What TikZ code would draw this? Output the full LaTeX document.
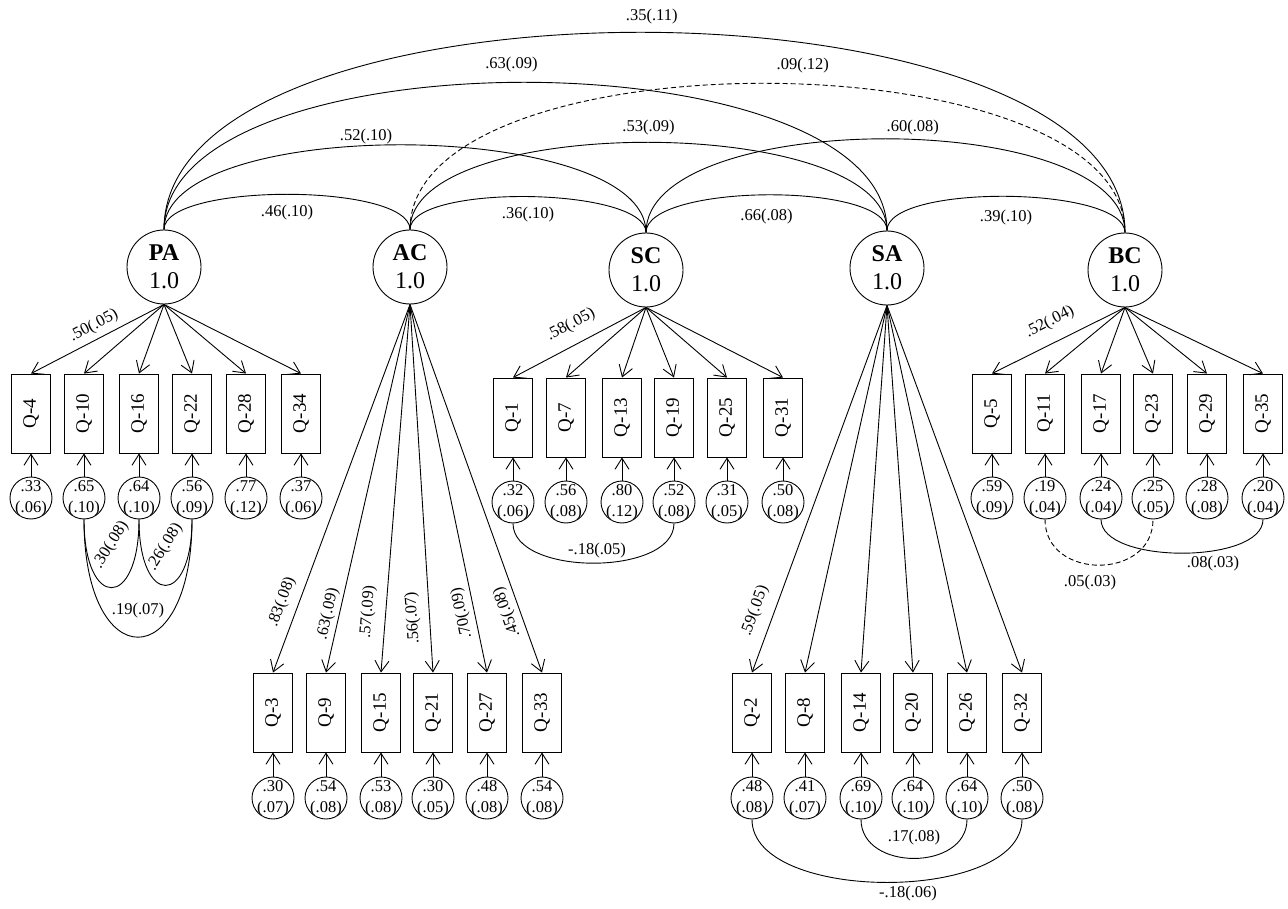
\documentclass[tikz,border=0pt]{standalone}
\usepackage{fontspec}
\setmainfont{Liberation Serif}
\usetikzlibrary{calc,arrows.meta}

\begin{document}
\begin{tikzpicture}[x=1pt, y=-1pt,
  latent/.style={draw, circle, minimum size=74pt, inner sep=0pt, align=center,
    font=\fontsize{24}{28}\selectfont, line width=0.9pt},
  obs/.style={draw, rectangle, minimum width=39pt, minimum height=79pt, inner sep=0pt,
    font=\fontsize{19}{22}\selectfont, line width=0.9pt},
  err/.style={draw, circle, minimum size=42pt, inner sep=0pt, line width=0.9pt},
  errtxt/.style={inner sep=0pt, align=center, font=\fontsize{16.5}{21}\selectfont},
  load/.style={-{Straight Barb[length=11pt,width=14pt]}, line width=0.9pt},
  cov/.style={line width=0.9pt},
  dcov/.style={line width=0.9pt, dash pattern=on 5pt off 3pt},
  lab/.style={inner sep=0pt, font=\fontsize{16.5}{20}\selectfont},
]
\fill[white] (0,0) rectangle (1288,909);
\useasboundingbox (0,0) rectangle (1288,909);

% latent factors
\node[latent] (PA) at (164,267) {\textbf{PA}\\1.0};
\node[latent] (AC) at (410,267) {\textbf{AC}\\1.0};
\node[latent] (SC) at (646,270) {\textbf{SC}\\1.0};
\node[latent] (SA) at (887,268) {\textbf{SA}\\1.0};
\node[latent] (BC) at (1125,270) {\textbf{BC}\\1.0};

% factor correlations
\draw[cov] (PA.north) .. controls ($(PA.north)+(0,-47)$) and ($(AC.north)+(0,-47)$) .. (AC.north)
  node[lab, pos=.5, yshift=-18pt] (cPAAC) {.46(.10)};
\draw[cov] (AC.north) .. controls ($(AC.north)+(0,-46)$) and ($(SC.north)+(0,-46)$) .. (SC.north)
  node[lab, pos=.5, yshift=-18pt] (cACSC) {.36(.10)};
\draw[cov] (SC.north) .. controls ($(SC.north)+(0,-49)$) and ($(SA.north)+(0,-49)$) .. (SA.north)
  node[lab, pos=.5, yshift=-22pt] (cSCSA) {.66(.08)};
\draw[cov] (SA.north) .. controls ($(SA.north)+(0,-47)$) and ($(BC.north)+(0,-47)$) .. (BC.north)
  node[lab, pos=.5, yshift=-21pt] (cSABC) {.39(.10)};
\draw[cov] (PA.north) .. controls ($(PA.north)+(0,-115)$) and ($(SC.north)+(0,-115)$) .. (SC.north)
  node[lab, pos=.446, yshift=9pt] (cPASC) {.52(.10)};
\draw[cov] (AC.north) .. controls ($(AC.north)+(0,-117)$) and ($(SA.north)+(0,-117)$) .. (SA.north)
  node[lab, pos=.5, yshift=15pt] (cACSA) {.53(.09)};
\draw[cov] (SC.north) .. controls ($(SC.north)+(0,-125)$) and ($(BC.north)+(0,-125)$) .. (BC.north)
  node[lab, pos=.538, yshift=12pt] (cSCBC) {.60(.08)};
\draw[cov] (PA.north) .. controls ($(PA.north)+(0,-197)$) and ($(SA.north)+(0,-197)$) .. (SA.north)
  node[lab, pos=.487, yshift=18pt] (cPASA) {.63(.09)};
\draw[dcov] (AC.north) .. controls ($(AC.north)+(0,-197)$) and ($(BC.north)+(0,-197)$) .. (BC.north)
  node[lab, pos=.533, yshift=19pt] (cACBC) {.09(.12)};
\draw[cov] (PA.north) .. controls ($(PA.north)+(0,-265)$) and ($(BC.north)+(0,-265)$) .. (BC.north)
  node[lab, pos=.505, yshift=16pt] (cPABC) {.35(.11)};

% PA indicators
\foreach \n/\x/\v/\s in {4/31/.33/.06, 10/84/.65/.10, 16/139/.64/.10,
                         22/192/.56/.09, 28/246/.77/.12, 34/301/.37/.06}{
  \node[obs] (q\n) at (\x,413.5) {\rotatebox{90}{Q-\n}};
  \node[err] (e\n) at (\x,498) {};
  \node[errtxt] (t\n) at (e\n.center) {\v\\(\s)};
  \draw[load] (e\n.north) -- (q\n.south);
  \draw[load] (PA.south) -- (q\n.north);
}
% AC indicators
\foreach \n/\x/\v/\s in {3/273/.30/.07, 9/326/.54/.08, 15/381/.53/.08,
                         21/433/.30/.05, 27/487/.48/.08, 33/542/.54/.08}{
  \node[obs] (q\n) at (\x,712.5) {\rotatebox{90}{Q-\n}};
  \node[err] (e\n) at (\x,798) {};
  \node[errtxt] (t\n) at (e\n.center) {\v\\(\s)};
  \draw[load] (e\n.north) -- (q\n.south);
  \draw[load] (AC.south) -- (q\n.north);
}
% SC indicators
\foreach \n/\x/\v/\s in {1/513/.32/.06, 7/566/.56/.08, 13/622/.80/.12,
                         19/674/.52/.08, 25/727/.31/.05, 31/783/.50/.08}{
  \node[obs] (q\n) at (\x,417.5) {\rotatebox{90}{Q-\n}};
  \node[err] (e\n) at (\x,502) {};
  \node[errtxt] (t\n) at (e\n.center) {\v\\(\s)};
  \draw[load] (e\n.north) -- (q\n.south);
  \draw[load] (SC.south) -- (q\n.north);
}
% SA indicators
\foreach \n/\x/\v/\s in {2/752/.48/.08, 8/805/.41/.07, 14/861/.69/.10,
                         20/913/.64/.10, 26/967/.64/.10, 32/1022/.50/.08}{
  \node[obs] (q\n) at (\x,712.5) {\rotatebox{90}{Q-\n}};
  \node[err] (e\n) at (\x,798) {};
  \node[errtxt] (t\n) at (e\n.center) {\v\\(\s)};
  \draw[load] (e\n.north) -- (q\n.south);
  \draw[load] (SA.south) -- (q\n.north);
}
% BC indicators
\foreach \n/\x/\v/\s in {5/992/.59/.09, 11/1045/.19/.04, 17/1101/.24/.04,
                         23/1153/.25/.05, 29/1207/.28/.08, 35/1263/.20/.04}{
  \node[obs] (q\n) at (\x,413.5) {\rotatebox{90}{Q-\n}};
  \node[err] (e\n) at (\x,498) {};
  \node[errtxt] (t\n) at (e\n.center) {\v\\(\s)};
  \draw[load] (e\n.north) -- (q\n.south);
  \draw[load] (BC.south) -- (q\n.north);
}

% loading labels
\node[lab, rotate=27.8] (lPA) at (94,326) {.50(.05)};
\node[lab, rotate=28.1] (lSC) at (571,325) {.58(.05)};
\node[lab, rotate=26.7] (lBC) at (1050,322) {.52(.04)};
\node[lab, rotate=69.6] (lAC3) at (282,602) {.83(.08)};
\node[lab, rotate=77.2] (lAC9) at (328,614) {.63(.09)};
\node[lab, rotate=85.5] (lAC15) at (368,612) {.57(.09)};
\node[lab, rotate=93.6] (lAC21) at (413,618) {.56(.07)};
\node[lab, rotate=101.8] (lAC27) at (462,613) {.70(.09)};
\node[lab, rotate=109.7] (lAC33) at (507,612) {.45(.08)};
\node[lab, rotate=69.9] (lSA2) at (755,611) {.59(.05)};

% residual covariances
\draw[cov] (e10.south) .. controls ($(e10.south)+(0,91)$) and ($(e16.south)+(0,91)$) .. (e16.south);
\draw[cov] (e16.south) .. controls ($(e16.south)+(0,88)$) and ($(e22.south)+(0,88)$) .. (e22.south);
\draw[cov] (e10.south) .. controls ($(e10.south)+(0,157)$) and ($(e22.south)+(0,157)$) .. (e22.south)
  node[lab, pos=.5, yshift=27pt] (r1022) {.19(.07)};
\node[lab, rotate=58] (r1016) at (111,545) {.30(.08)};
\node[lab, rotate=58] (r1622) at (165,547) {.26(.08)};

\draw[cov] (e1.south) .. controls ($(e1.south)+(0,53)$) and ($(e19.south)+(0,53)$) .. (e19.south)
  node[lab, pos=.5, xshift=3.5pt, yshift=13pt] (r119) {-.18(.05)};

\draw[dcov] (e11.south) .. controls ($(e11.south)+(0,61)$) and ($(e23.south)+(0,61)$) .. (e23.south)
  node[lab, pos=.5, xshift=-9pt, yshift=-17pt] (r1123) {.05(.03)};
\draw[cov] (e17.south) .. controls ($(e17.south)+(0,45)$) and ($(e35.south)+(0,45)$) .. (e35.south)
  node[lab, pos=.5, xshift=31pt, yshift=-10pt] (r1735) {.08(.03)};

\draw[cov] (e14.south) .. controls ($(e14.south)+(0,52)$) and ($(e26.south)+(0,52)$) .. (e26.south)
  node[lab, pos=.5, yshift=21pt] (r1426) {.17(.08)};
\draw[cov] (e2.south) .. controls ($(e2.south)+(0,84)$) and ($(e32.south)+(0,84)$) .. (e32.south)
  node[lab, pos=.5, xshift=21pt, yshift=-11pt] (r232) {-.18(.06)};

\end{tikzpicture}
\end{document}
